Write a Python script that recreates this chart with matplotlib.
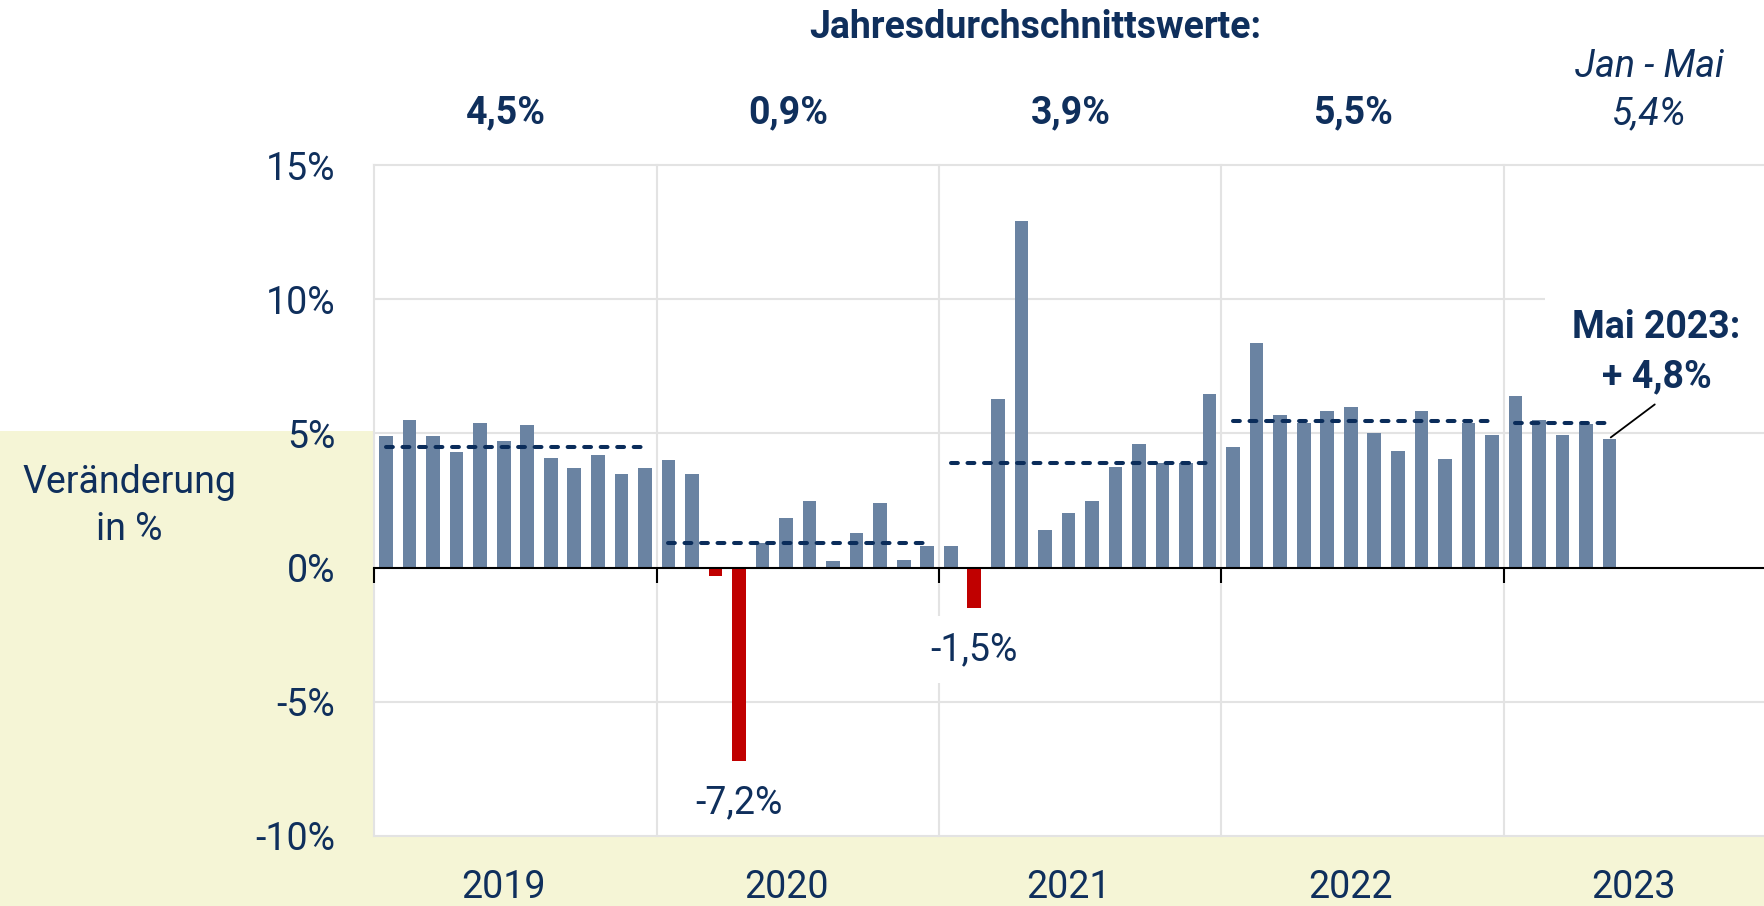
import numpy as np
import matplotlib
matplotlib.use('Agg')
import matplotlib.pyplot as plt
from matplotlib.patches import Rectangle
from matplotlib import transforms

# ---------------- data ----------------
years = ['2019', '2020', '2021', '2022', '2023']
v2019 = [4.9, 5.5, 4.9, 4.3, 5.4, 4.7, 5.3, 4.1, 3.7, 4.2, 3.5, 3.7]
v2020 = [4.0, 3.5, -0.3, -7.2, 0.9, 1.85, 2.5, 0.25, 1.3, 2.4, 0.3, 0.8]
v2021 = [0.8, -1.5, 6.3, 12.9, 1.4, 2.05, 2.5, 3.75, 4.6, 3.9, 3.9, 6.45]
v2022 = [4.5, 8.35, 5.7, 5.4, 5.85, 6.0, 5.0, 4.35, 5.85, 4.05, 5.4, 4.95]
v2023 = [6.4, 5.5, 4.95, 5.35, 4.8]
avg_values = [4.5, 0.9, 3.9, 5.45, 5.4]
avg_labels = ['4,5%', '0,9%', '3,9%', '5,5%', '5,4%']
y_ticks = [-10, -5, 0, 5, 10, 15]
y_ticklabels = ['-10%', '-5%', '0%', '5%', '10%', '15%']

monthly = v2019 + v2020 + v2021 + v2022 + v2023
yearly = [v2019, v2020, v2021, v2022, v2023]

# ---------------- style ----------------
W, H, DPI = 1765, 906, 100
NAVY = '#0f2f5c'
DASH = '#0a2c5a'
BAR = '#6a83a2'
RED = '#c00000'
GRID = '#e3e3e3'
CREAM = '#f5f5d6'
FS = 27

plt.rcParams['font.family'] = ['Roboto', 'DejaVu Sans']

def fx(x):
    return x / W

def fy(y):
    return 1 - y / H

fig = plt.figure(figsize=(W / DPI, H / DPI), dpi=DPI)
fig.patch.set_facecolor('white')
fig.patches.append(Rectangle((0, 0), fx(374), fy(431), transform=fig.transFigure,
                             facecolor=CREAM, edgecolor='none', zorder=-5))
fig.patches.append(Rectangle((0, 0), 1, fy(836), transform=fig.transFigure,
                             facecolor=CREAM, edgecolor='none', zorder=-5))

ax_left, ax_top, ax_bottom = 374.3, 165, 836
ax = fig.add_axes([fx(ax_left), fy(ax_bottom), 1 - fx(ax_left), fy(ax_top) - fy(ax_bottom)])
ax.set_zorder(2)
ax.set_facecolor('white')
month_px = 282.35 / 12
ax.set_xlim(-0.5, -0.5 + (W - ax_left) / month_px)
ax.set_ylim(-10, 15)
for s in ax.spines.values():
    s.set_visible(False)

n = len(monthly)
x = np.arange(n)
boundaries = [i * 12 - 0.5 for i in range(len(years))]

# grid
for yv in [-10, -5, 5, 15]:
    ax.axhline(yv, color=GRID, lw=1.5, zorder=0.5, clip_on=False)
ax.hlines(10, -0.5, 49.25, color=GRID, lw=1.5, zorder=0.5)
for b in boundaries:
    ax.axvline(b, color=GRID, lw=1.5, zorder=0.5, clip_on=False)

# bars
colors = [RED if v < 0 else BAR for v in monthly]
ax.bar(x, monthly, width=0.58, color=colors, zorder=2)

# zero line + year ticks
ax.axhline(0, color='black', lw=1.5, zorder=3, clip_on=False)
ax.vlines(boundaries, -0.56, 0, color='black', lw=1.5, zorder=3, clip_on=False)

# yearly averages (dashed)
for i, avg in enumerate(avg_values):
    start = i * 12
    end = start + len(yearly[i]) - 1
    ax.plot([start, end], [avg, avg], color=DASH, lw=2.9, ls=(0, (1.7, 2.4)),
            dash_capstyle='round', solid_capstyle='round', zorder=4)

# ticks
ax.set_yticks(y_ticks, y_ticklabels)
ax.tick_params(axis='y', length=0, pad=28, labelsize=FS, labelcolor=NAVY)
ax.set_xticks([i * 12 + 5 for i in range(len(years))], years)
ax.tick_params(axis='x', length=0, pad=24, labelsize=FS, labelcolor=NAVY)

# negative labels
for i, v in enumerate(monthly):
    if v < -1:
        box = None
        if v > -5:
            box = dict(boxstyle='square,pad=0.4', facecolor='white', edgecolor='none')
        ax.annotate(f'{v:.1f}%'.replace('.', ','), xy=(i, v), xytext=(0, -52),
                    textcoords='offset pixels', ha='center', va='baseline',
                    fontsize=FS, color=NAVY, zorder=5, bbox=box)

# latest value annotation
last_i, last_v = n - 1, monthly[-1]
ax.annotate('', xy=(last_i + 0.05, last_v + 0.05), xytext=(44, 33), textcoords='offset pixels',
            arrowprops=dict(arrowstyle='-', color='black', lw=1.3, shrinkA=0, shrinkB=0), zorder=5)
ax.text(54.0, (567.7 - 338) / 26.84, 'Mai 2023:', ha='center', va='baseline',
        fontsize=FS, fontweight='bold', color=NAVY, zorder=5)
ax.text(54.0, (567.7 - 387) / 26.84, f'+ {last_v:.1f}%'.replace('.', ','), ha='center',
        va='baseline', fontsize=FS, fontweight='bold', color=NAVY, zorder=5)

# top texts
fig.text(fx(1035), fy(38), 'Jahresdurchschnittswerte:', ha='center', va='baseline',
         fontsize=27, fontweight='bold', color=NAVY)
blend = transforms.blended_transform_factory(ax.transData, fig.transFigure)
label_x = [5.1, 17.1, 29.1, 41.1, 53.7]
for i, lab in enumerate(avg_labels):
    if i < 4:
        fig.text(label_x[i], fy(123.5), lab, transform=blend, ha='center', va='baseline',
                 fontsize=FS, fontweight='bold', color=NAVY)
    else:
        fig.text(label_x[i], fy(124.5), lab, transform=blend, ha='center', va='baseline',
                 fontsize=FS, fontstyle='italic', color=NAVY)
fig.text(label_x[4], fy(77), 'Jan - Mai', transform=blend, ha='center', va='baseline',
         fontsize=FS, fontstyle='italic', color=NAVY)

# y-axis title
fig.text(fx(129), fy(492.7), 'Veränderung', ha='center', va='baseline', fontsize=FS, color=NAVY)
fig.text(fx(129), fy(540), 'in %', ha='center', va='baseline', fontsize=FS, color=NAVY)

fig.savefig('out.png', dpi=DPI, facecolor=fig.get_facecolor())
